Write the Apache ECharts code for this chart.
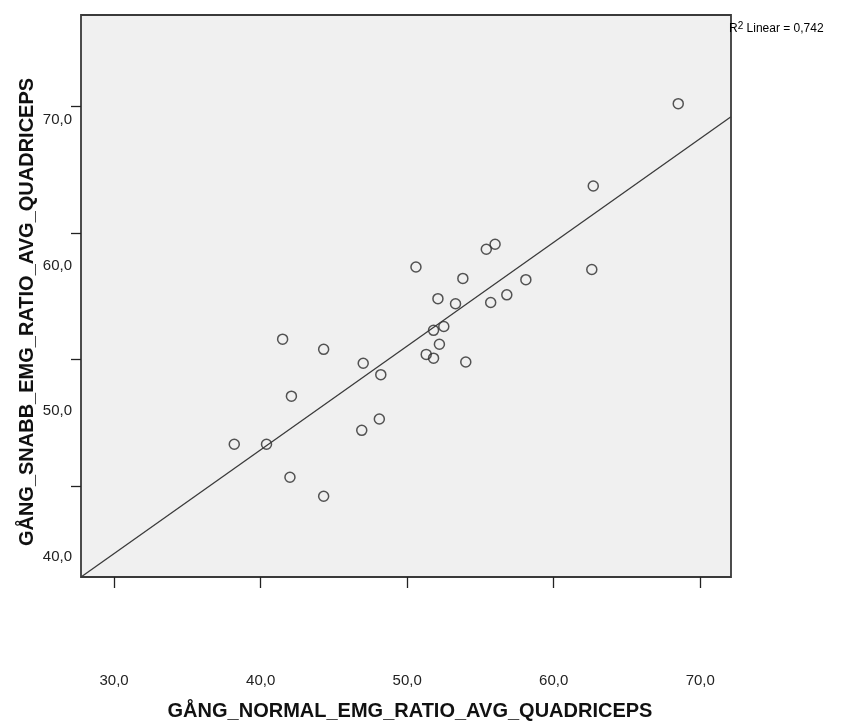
<!DOCTYPE html>
<html lang="sv">
<head>
    <meta charset="utf-8"/>
    <title>EMG ratio quadriceps</title>
    <script src="https://cdn.jsdelivr.net/npm/echarts@6/dist/echarts.min.js"></script>
</head>
<body style="margin:0;background:#fff">
<div id="chart" style="width:851px;height:724px;"></div>
<script type="text/javascript">
    // GÅNG_NORMAL (x) och GÅNG_SNABB (y)
    var normalX = [50.6, 55.4, 56.0, 53.8, 58.1, 52.1, 53.3, 55.7, 56.8, 51.8,
                   52.5, 52.2, 51.3, 51.8, 54.0, 41.5, 44.3, 47.0, 48.2, 42.1,
                   48.1, 46.9, 38.2, 40.4, 42.0, 44.3, 68.5, 62.7, 62.6];
    var snabbY  = [57.3, 58.7, 59.1, 56.4, 56.3, 54.8, 54.4, 54.5, 55.1, 52.3,
                   52.6, 51.2, 50.4, 50.1, 49.8, 51.6, 50.8, 49.7, 48.8, 47.1,
                   45.3, 44.4, 43.3, 43.3, 40.7, 39.2, 70.2, 63.7, 57.1];
    // linjär anpassning, ändpunkter vid axlarnas kanter
    var fitX = [27.74, 72.1];
    var fitY = [32.82, 69.16];
    var xTicks = [30, 40, 50, 60, 70];
    var yTicks = [40, 50, 60, 70];
    var r2 = '0,742';

    var points = [];
    for (var i = 0; i < normalX.length; i++) {
        points.push([normalX[i], snabbY[i]]);
    }
    var fit = [[fitX[0], fitY[0]], [fitX[1], fitY[1]]];

    function fmt(v) {
        return v.toFixed(1).replace('.', ',');
    }

    var labelFont = {fontFamily: 'Liberation Sans', fontSize: 15, color: '#222'};
    var titleFont = 'bold 20px "Liberation Sans"';

    var myChart = echarts.init(document.getElementById('chart'));
    var option = {
        animation: false,
        grid: [
            {left: 81, right: 120, top: 15, bottom: 147, show: true,
             backgroundColor: '#f0f0f0', borderColor: '#3a3a3a', borderWidth: 1.8},
            // bara för y-etiketterna, som ligger förskjutna i originalet
            {left: 81, width: 10, top: 120, bottom: 167}
        ],
        xAxis: [
            {
                gridIndex: 0, type: 'value', min: fitX[0], max: fitX[1],
                splitLine: {show: false},
                axisLine: {show: false},
                axisTick: {show: true, length: 11, customValues: xTicks,
                           lineStyle: {color: '#222', width: 1.3}},
                axisLabel: Object.assign({customValues: xTicks, margin: 96,
                                          formatter: fmt}, labelFont)
            },
            {gridIndex: 1, type: 'value', show: false}
        ],
        yAxis: [
            {
                gridIndex: 0, type: 'value', min: 32.82, max: 77.2,
                splitLine: {show: false},
                axisLine: {show: false},
                axisTick: {show: true, length: 10, customValues: yTicks,
                           lineStyle: {color: '#222', width: 1.3}},
                axisLabel: {show: false}
            },
            {
                gridIndex: 1, type: 'value', min: 40, max: 70,
                splitLine: {show: false},
                axisLine: {show: false},
                axisTick: {show: false},
                axisLabel: Object.assign({customValues: yTicks, margin: 9,
                                          formatter: fmt}, labelFont)
            }
        ],
        graphic: [
            {
                type: 'text', x: 27, y: 312, rotation: Math.PI / 2,
                style: {text: 'GÅNG_SNABB_EMG_RATIO_AVG_QUADRICEPS', font: titleFont,
                        fill: '#111', align: 'center', verticalAlign: 'middle'}
            },
            {
                type: 'text', x: 410, y: 711,
                style: {text: 'GÅNG_NORMAL_EMG_RATIO_AVG_QUADRICEPS', font: titleFont,
                        fill: '#111', align: 'center', verticalAlign: 'middle'}
            },
            {
                type: 'text', x: 729, y: 29,
                style: {
                    text: '{a|R}{s|2}{a| Linear = ' + r2 + '}',
                    verticalAlign: 'middle',
                    rich: {
                        a: {fontFamily: 'Liberation Sans', fontSize: 12, color: '#222'},
                        s: {fontFamily: 'Liberation Sans', fontSize: 10, color: '#222',
                            verticalAlign: 'top', padding: [0, 0, 5, 0]}
                    }
                }
            }
        ],
        series: [
            {
                type: 'line', xAxisIndex: 0, yAxisIndex: 0,
                data: fit, showSymbol: false, silent: true,
                lineStyle: {color: '#3a3a3a', width: 1.3}
            },
            {
                type: 'scatter', xAxisIndex: 0, yAxisIndex: 0,
                data: points, symbol: 'circle', symbolSize: 10,
                itemStyle: {color: 'rgba(0,0,0,0)', borderColor: '#2a2a2a', borderWidth: 1.5}
            }
        ]
    };
    myChart.setOption(option);
</script>
</body>
</html>
